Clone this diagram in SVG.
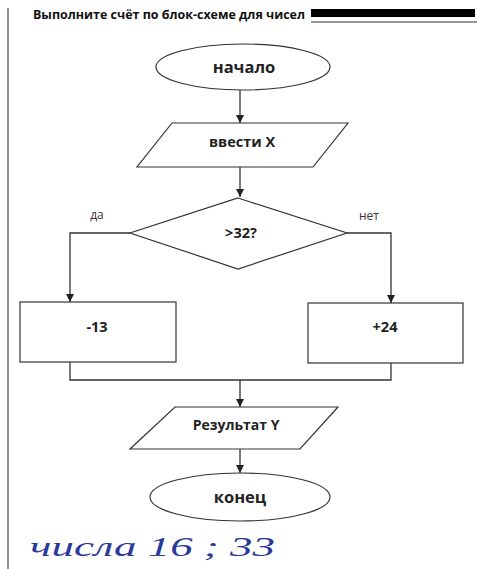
<svg xmlns="http://www.w3.org/2000/svg" width="477" height="569" viewBox="0 0 477 569">
<style>
.sh{fill:#fff;stroke:#333;stroke-width:1.2}
.ln{fill:none;stroke:#333;stroke-width:1.3}
.t{font-family:"Open Sans","Liberation Sans",sans-serif;font-weight:bold;fill:#222;text-anchor:middle}
.lbl{font-family:"Open Sans","Liberation Sans",sans-serif;fill:#333;font-size:12px;text-anchor:middle}
</style>
<defs>
<marker id="ar" viewBox="0 0 10 10" refX="10" refY="5" markerWidth="8" markerHeight="8" markerUnits="userSpaceOnUse" orient="auto">
<path d="M0,0 L10,5 L0,10 z" fill="#222"/>
</marker>
</defs>
<rect width="477" height="569" fill="#fff"/>
<line x1="8" y1="8" x2="8" y2="569" stroke="#444" stroke-width="1.2"/>
<text x="33" y="19" font-family="Open Sans, Liberation Sans, sans-serif" font-weight="bold" font-size="13" fill="#111" textLength="272" lengthAdjust="spacingAndGlyphs">Выполните счёт по блок-схеме для чисел</text>
<rect x="311" y="9" width="164" height="8" fill="#000"/>
<line x1="311" y1="22" x2="477" y2="22" stroke="#333" stroke-width="1"/>

<g id="connectors">
<line class="ln" x1="240" y1="90" x2="240" y2="123" marker-end="url(#ar)"/>
<line class="ln" x1="240" y1="167" x2="240" y2="197" marker-end="url(#ar)"/>
<polyline class="ln" points="130,233 70,233 70,302" marker-end="url(#ar)"/>
<polyline class="ln" points="347,233 391,233 391,303" marker-end="url(#ar)"/>
<polyline class="ln" points="70,362 70,380 391,380 391,363"/>
<line class="ln" x1="240" y1="380" x2="240" y2="407" marker-end="url(#ar)"/>
<line class="ln" x1="240" y1="449" x2="240" y2="473" marker-end="url(#ar)"/>
<text class="lbl" x="97" y="219">да</text>
<text class="lbl" x="369" y="220">нет</text>
</g>

<g id="start">
<ellipse class="sh" cx="243" cy="67" rx="87" ry="23"/>
<text class="t" x="244" y="73" font-size="16.5">начало</text>
</g>
<g id="input">
<polygon class="sh" points="172,123 348,123 313,167 137,167"/>
<text class="t" x="242" y="147" font-size="14.5">ввести X</text>
</g>
<g id="decision">
<polygon class="sh" points="238,198 347,233 238,269 130,233"/>
<text class="t" x="241" y="238" font-size="14.5">&gt;32?</text>
</g>
<g id="minus13">
<rect class="sh" x="20" y="302" width="156" height="60"/>
<text class="t" x="97" y="332" font-size="14.5">-13</text>
</g>
<g id="plus24">
<rect class="sh" x="308" y="303" width="155" height="60"/>
<text class="t" x="385" y="332" font-size="14.5">+24</text>
</g>
<g id="output">
<polygon class="sh" points="175,407 338,407 300,449 130,449"/>
<text class="t" x="236" y="430" font-size="14">Результат Y</text>
</g>
<g id="end">
<ellipse class="sh" cx="240" cy="497" rx="90" ry="24"/>
<text class="t" x="240" y="503" font-size="16.5">конец</text>
</g>
<text x="30" y="556" font-family="Liberation Serif, serif" font-style="italic" font-size="28" fill="#2a3a9a" textLength="245" lengthAdjust="spacingAndGlyphs">числа 16 ; 33</text>
</svg>
